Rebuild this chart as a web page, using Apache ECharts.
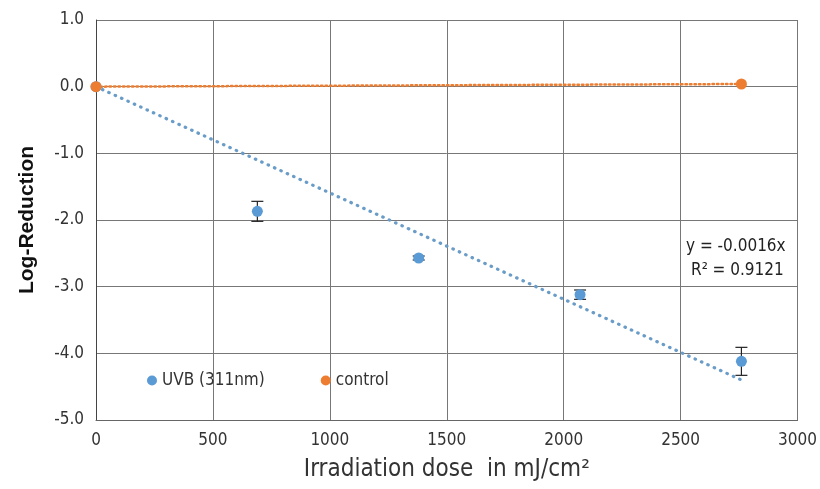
<!DOCTYPE html>
<html>
<head>
<meta charset="utf-8">
<script src="https://cdn.jsdelivr.net/npm/echarts@6/dist/echarts.min.js"></script>
<style>
  html, body { margin: 0; padding: 0; background: #fff; }
  #chart { width: 820px; height: 489px; }
</style>
</head>
<body>
<div id="chart"></div>
<script>
// values
let uvbDose = [0, 690, 1380, 2070, 2760];
let uvbLog = [0, -1.87, -2.57, -3.12, -4.12];
let uvbErr = [0, 0.15, 0.03, 0.07, 0.21];

let controlDose = [0, 2760];
let controlLog = [0, 0.04];

// trend lines (y = -0.0016x and control fit)
let uvbTrend = [[0, 0], [2760, -4.4]];
let controlTrend = [[0, 0], [2760, 0.04]];

let xTicks = [0, 500, 1000, 1500, 2000, 2500, 3000];
let yTicks = [1.0, 0.0, -1.0, -2.0, -3.0, -4.0, -5.0];

let blue = '#5B9BD5';
let orange = '#ED7D31';
let font = "'Liberation Sans Narrow', 'DejaVu Sans Condensed', sans-serif";

let myChart = echarts.init(document.getElementById('chart'));

let uvbPoints = uvbDose.map(function (d, i) { return [d, uvbLog[i]]; });
let controlPoints = controlDose.map(function (d, i) { return [d, controlLog[i]]; });
let errData = uvbDose.map(function (d, i) {
    return [d, uvbLog[i] - uvbErr[i], uvbLog[i] + uvbErr[i]];
}).filter(function (e, i) { return uvbErr[i] > 0; });

let option = {
    animation: false,
    textStyle: {fontFamily: font},
    grid: {left: 96, right: 21, top: 20, bottom: 69},
    legend: {
        left: 142,
        top: 367,
        itemWidth: 10,
        itemHeight: 10,
        itemGap: 56,
        textStyle: {fontFamily: font, fontSize: 17, color: '#333'},
        data: ['UVB (311nm)', 'control']
    },
    xAxis: {
        type: 'value',
        min: xTicks[0],
        max: xTicks[xTicks.length - 1],
        interval: 500,
        name: 'Irradiation dose  in mJ/cm²',
        nameLocation: 'middle',
        nameGap: 38,
        nameTextStyle: {fontFamily: font, fontSize: 24, color: '#333'},
        axisLine: {show: true, onZero: false, lineStyle: {color: '#666'}},
        axisTick: {show: false},
        axisLabel: {
            fontSize: 17, color: '#333', margin: 12,
            formatter: function (v) { return String(v); }
        },
        splitLine: {show: true, lineStyle: {color: '#777', width: 1}}
    },
    yAxis: {
        type: 'value',
        min: yTicks[yTicks.length - 1],
        max: yTicks[0],
        interval: 1,
        name: 'Log-Reduction',
        nameLocation: 'middle',
        nameGap: 58,
        nameTextStyle: {fontFamily: "'Liberation Sans', Arial, sans-serif", fontSize: 21, fontWeight: 'bold', color: '#111'},
        axisLine: {show: true, lineStyle: {color: '#444'}},
        axisTick: {show: false},
        axisLabel: {
            fontSize: 17, color: '#333', margin: 12,
            formatter: function (v) { return v.toFixed(1); }
        },
        splitLine: {show: true, lineStyle: {color: '#777', width: 1}}
    },
    series: [
        {
            name: 'controlTrend',
            type: 'line',
            data: controlTrend,
            symbol: 'none',
            silent: true,
            lineStyle: {color: orange, width: 2.5, type: [1.5, 3], cap: 'round'},
            z: 2
        },
        {
            name: 'uvbTrend',
            type: 'line',
            data: uvbTrend,
            symbol: 'none',
            silent: true,
            lineStyle: {color: '#6A9CC8', width: 3.2, type: [0.5, 6.5], cap: 'round'},
            z: 2
        },
        {
            name: 'errorBars',
            type: 'custom',
            data: errData,
            silent: true,
            z: 3,
            renderItem: function (params, api) {
                let x = api.value(0);
                let lo = api.coord([x, api.value(1)]);
                let hi = api.coord([x, api.value(2)]);
                let w = 6;
                let st = {stroke: '#222', lineWidth: 1.2};
                return {
                    type: 'group',
                    children: [
                        {type: 'line', shape: {x1: lo[0], y1: lo[1], x2: hi[0], y2: hi[1]}, style: st},
                        {type: 'line', shape: {x1: lo[0] - w, y1: lo[1], x2: lo[0] + w, y2: lo[1]}, style: st},
                        {type: 'line', shape: {x1: hi[0] - w, y1: hi[1], x2: hi[0] + w, y2: hi[1]}, style: st}
                    ]
                };
            }
        },
        {
            name: 'UVB (311nm)',
            type: 'scatter',
            data: uvbPoints,
            symbolSize: 11,
            itemStyle: {color: blue, opacity: 1},
            z: 4
        },
        {
            name: 'control',
            type: 'scatter',
            data: controlPoints,
            symbolSize: 11,
            itemStyle: {color: orange, opacity: 1},
            z: 5
        }
    ],
    graphic: [
        {
            type: 'text',
            left: 686,
            top: 238,
            style: {text: 'y = -0.0016x', fontFamily: font, fontSize: 17, fill: '#222'}
        },
        {
            type: 'text',
            left: 691,
            top: 262,
            style: {text: 'R² = 0.9121', fontFamily: font, fontSize: 17, fill: '#222'}
        }
    ]
};

myChart.setOption(option);
</script>
</body>
</html>
